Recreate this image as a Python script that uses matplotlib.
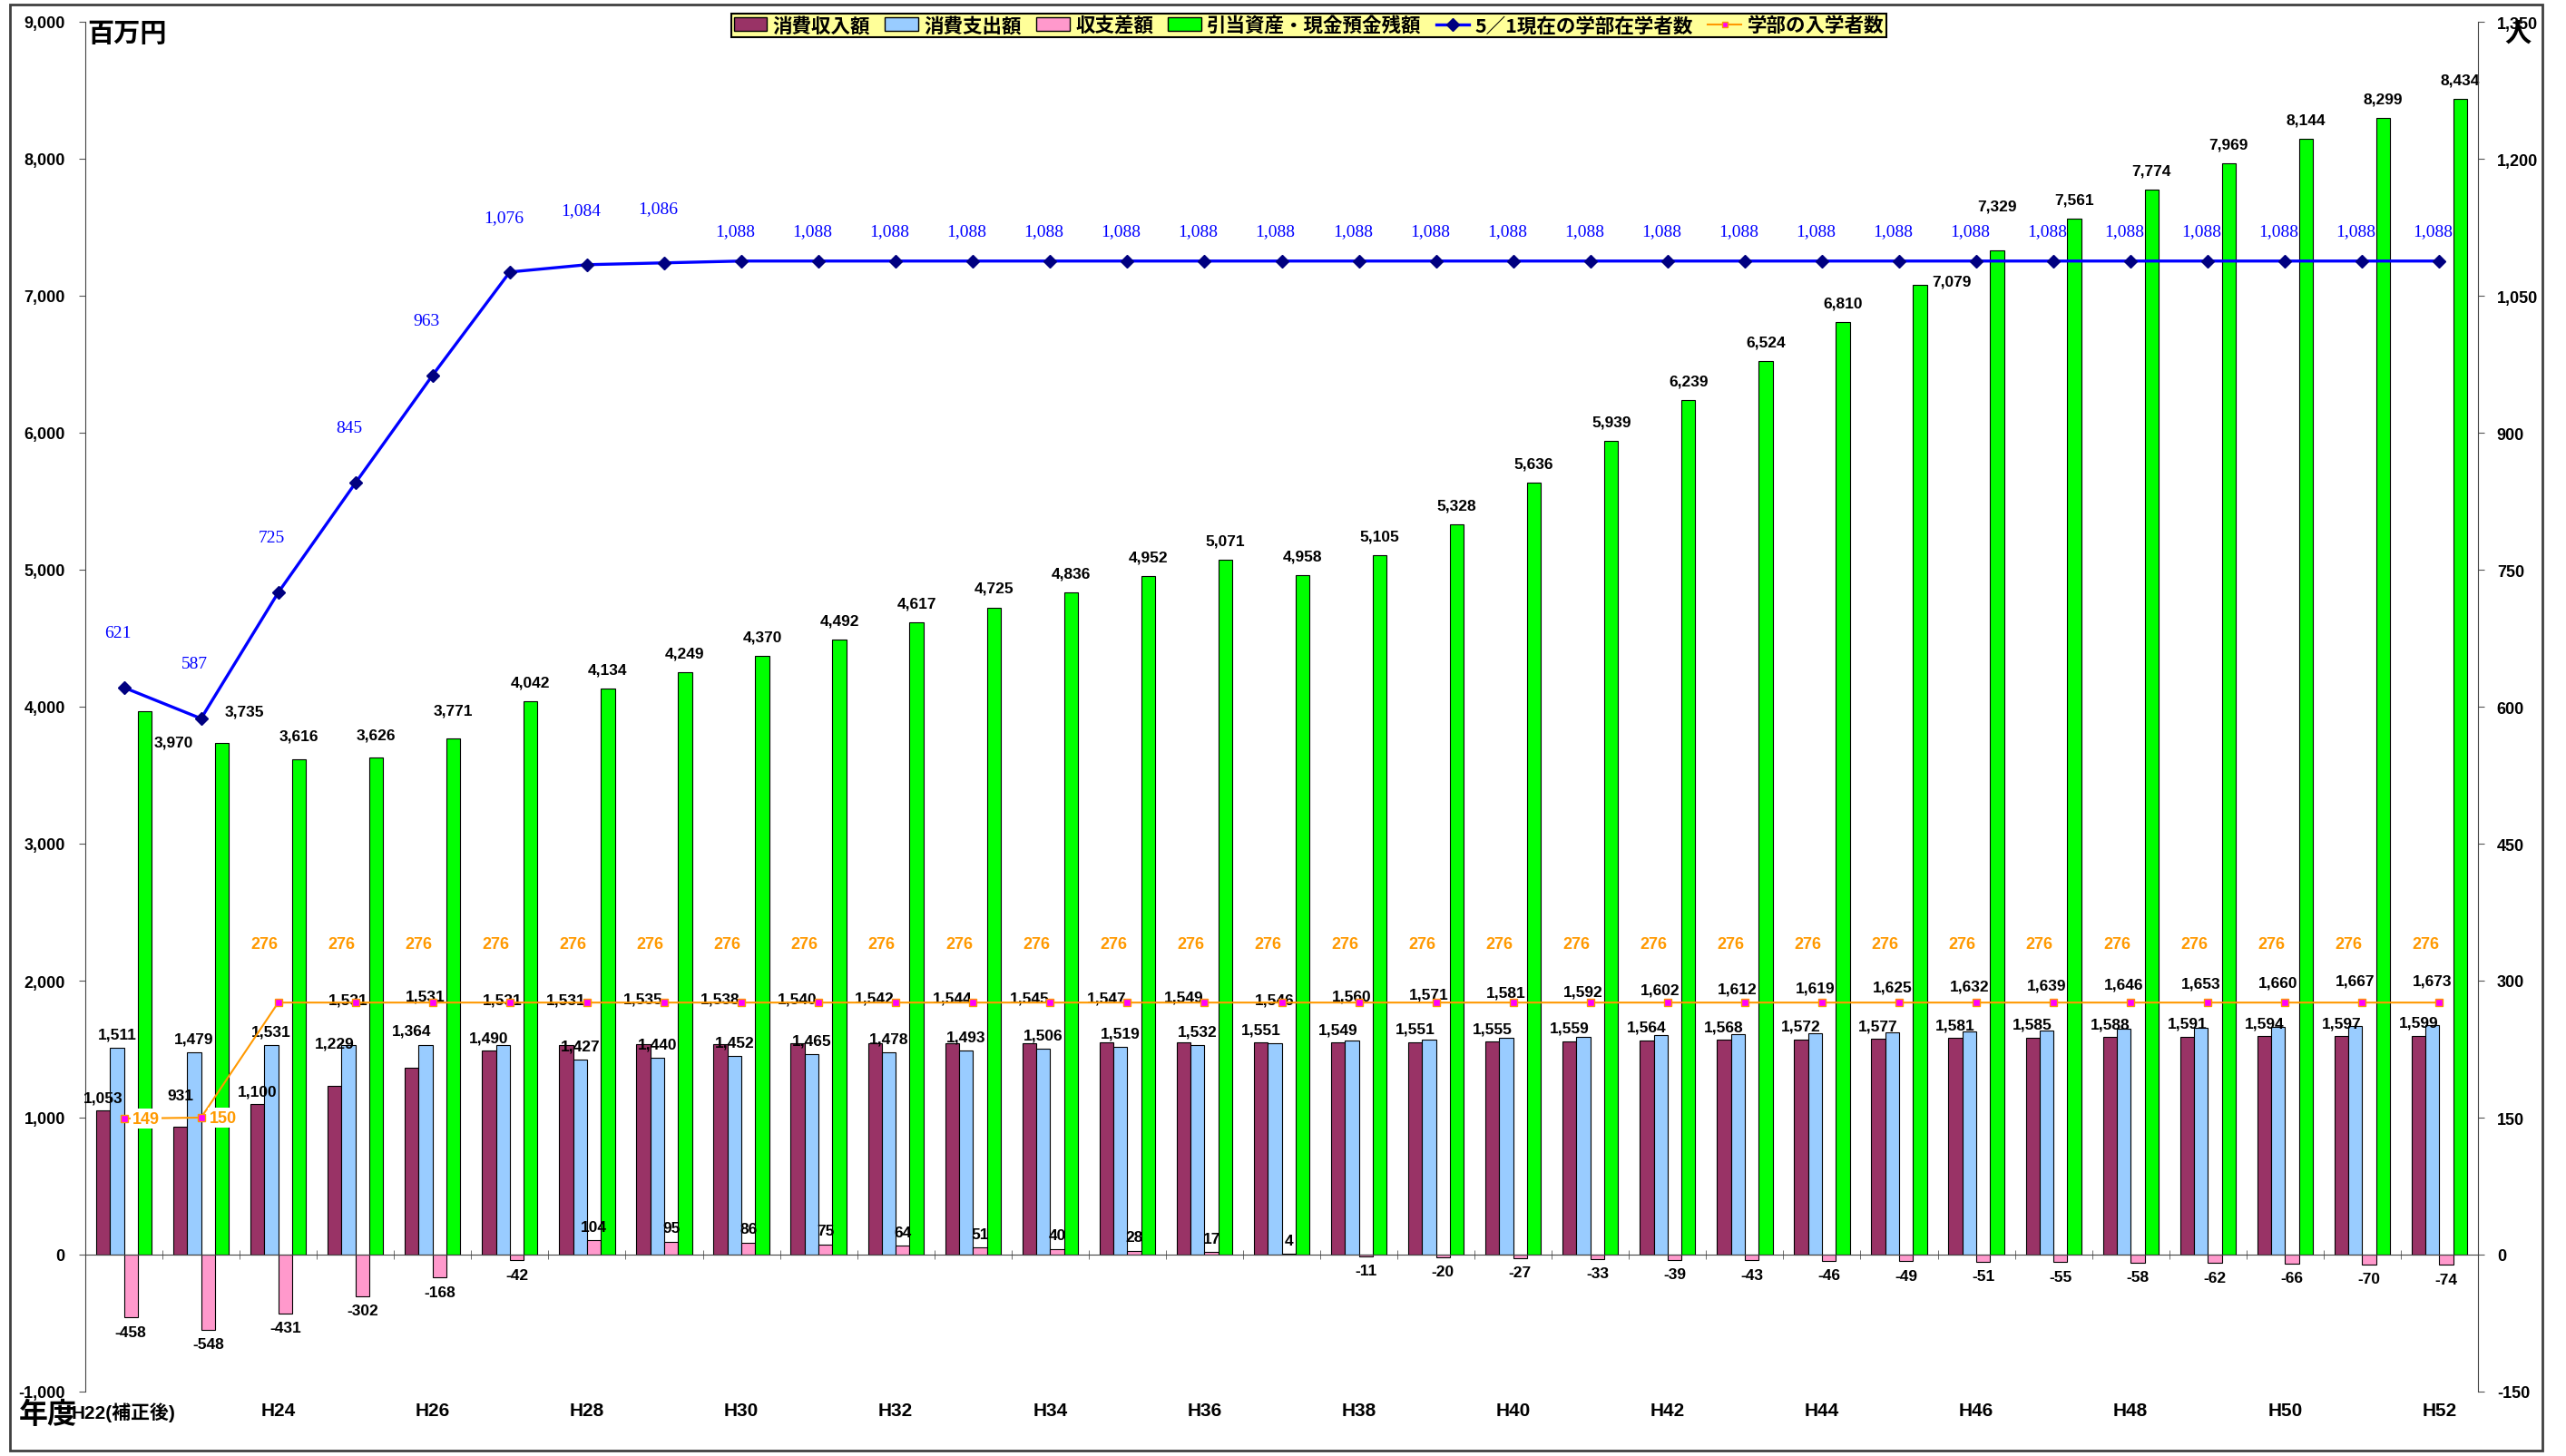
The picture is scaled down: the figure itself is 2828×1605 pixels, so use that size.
import numpy as np
import matplotlib.pyplot as plt
from matplotlib.lines import Line2D
from matplotlib.patches import Patch, Rectangle
from matplotlib.ticker import FuncFormatter, MultipleLocator
from matplotlib.font_manager import FontProperties

plt.rcParams['font.family'] = ['Liberation Sans', 'Noto Sans CJK JP', 'DejaVu Sans']
plt.rcParams['font.weight'] = 'bold'

# ---- data (百万円 / 人) ----
tick_labels = ['H22(補正後)', 'H24', 'H26', 'H28', 'H30', 'H32', 'H34', 'H36',
               'H38', 'H40', 'H42', 'H44', 'H46', 'H48', 'H50', 'H52']

income = [1053, 931, 1100, 1229, 1364, 1490, 1531, 1535, 1538, 1540, 1542,
          1544, 1545, 1547, 1549, 1551, 1549, 1551, 1555, 1559, 1564, 1568,
          1572, 1577, 1581, 1585, 1588, 1591, 1594, 1597, 1599]
expense = [1511, 1479, 1531, 1531, 1531, 1531, 1427, 1440, 1452, 1465, 1478,
           1493, 1506, 1519, 1532, 1546, 1560, 1571, 1581, 1592, 1602, 1612,
           1619, 1625, 1632, 1639, 1646, 1653, 1660, 1667, 1673]
balance = [-458, -548, -431, -302, -168, -42, 104, 95, 86, 75, 64, 51, 40, 28,
           17, 4, -11, -20, -27, -33, -39, -43, -46, -49, -51, -55, -58, -62,
           -66, -70, -74]
reserve = [3970, 3735, 3616, 3626, 3771, 4042, 4134, 4249, 4370, 4492, 4617,
           4725, 4836, 4952, 5071, 4958, 5105, 5328, 5636, 5939, 6239, 6524,
           6810, 7079, 7329, 7561, 7774, 7969, 8144, 8299, 8434]
students = [621, 587, 725, 845, 963, 1076, 1084, 1086, 1088, 1088, 1088, 1088,
            1088, 1088, 1088, 1088, 1088, 1088, 1088, 1088, 1088, 1088, 1088,
            1088, 1088, 1088, 1088, 1088, 1088, 1088, 1088]
entrants = [149, 150, 276, 276, 276, 276, 276, 276, 276, 276, 276, 276, 276,
            276, 276, 276, 276, 276, 276, 276, 276, 276, 276, 276, 276, 276,
            276, 276, 276, 276, 276]

names = ['消費収入額', '消費支出額', '収支差額', '引当資産・現金預金残額',
         '5／1現在の学部在学者数', '学部の入学者数']
colors = ['#993366', '#99CCFF', '#FF99CC', '#00FF00']

W, H = 2828, 1606
fig = plt.figure(figsize=(W / 100, H / 100), dpi=100)
ax = fig.add_axes([94 / W, 1 - 1535 / H, (2731 - 94) / W, (1535 - 25) / H])

x = np.arange(len(income))
w = 0.18
for k, vals in enumerate([income, expense, balance, reserve]):
    ax.bar(x + (k - 1.5) * w, vals, w, color=colors[k], edgecolor='black',
           linewidth=0.8, zorder=2)

comma = FuncFormatter(lambda v, p: f'{int(v):,}')
ax.set_xlim(-0.5, len(x) - 0.5)
ax.set_ylim(-1000, 9000)
ax.yaxis.set_major_locator(MultipleLocator(1000))
ax.yaxis.set_major_formatter(comma)
ax.tick_params(axis='y', length=5, pad=11, labelsize=13, color='#555555')
for s in ['top', 'right']:
    ax.spines[s].set_visible(False)
ax.spines['left'].set_color('#444444')
ax.spines['bottom'].set_position(('data', 0))
ax.spines['bottom'].set_color('#444444')
ax.set_xticks([])
ax.set_xticks(np.arange(-0.5, len(x), 1), minor=True)
ax.tick_params(axis='x', which='minor', length=7, direction='inout', color='#555555')

sec = ax.secondary_xaxis('bottom')
sec.set_xticks(x[::2], tick_labels)
sec.tick_params(length=0, pad=8, labelsize=15)
sec.spines['bottom'].set_visible(False)

# ---- bar labels ----
inc_off = np.full(len(x), 95)
exp_off = np.full(len(x), 95)
for i in range(5, len(x)):
    if income[i] > expense[i]:
        inc_off[i] = 330
    else:
        exp_off[i] = 330
inc_off[1] = 234
inc_off[3], exp_off[3] = 314, 332
inc_off[4], exp_off[4] = 271, 358
inc_off[15], exp_off[15] = 92, 316

lab = dict(ha='center', va='center', fontsize=12.5, zorder=5)
for i in x:
    ax.text(i - 1.5 * w, income[i] + inc_off[i], f'{income[i]:,}', **lab)
    ax.text(i - 0.5 * w, expense[i] + exp_off[i], f'{expense[i]:,}', **lab)
    off = 100 if balance[i] > 0 else -105
    ax.text(i + 0.5 * w, balance[i] + off, f'{balance[i]:,}', **lab)

green_adj = {0: (0.38, -230), 1: (0.29, 229), 2: (0, 169), 3: (0, 170),
             4: (0, 200), 23: (0.41, 24), 24: (0, 329)}
for i in x:
    dx, dy = green_adj.get(i, (0, 140))
    ax.text(i + 1.5 * w + dx, reserve[i] + dy, f'{reserve[i]:,}', **lab)

# ---- lines on the right axis ----
ax2 = ax.twinx()
ax2.set_ylim(-150, 1350)
ax2.yaxis.set_major_locator(MultipleLocator(150))
ax2.yaxis.set_major_formatter(comma)
ax2.tick_params(axis='y', length=5, pad=10, labelsize=13, color='#555555')
for s in ['top', 'left', 'bottom']:
    ax2.spines[s].set_visible(False)
ax2.spines['right'].set_color('#444444')

ax2.plot(x, entrants, color='#FF9900', lw=1.5, marker='s', ms=6,
         mfc='#FF00FF', mec='#FF9900', mew=1, zorder=3)
ax2.plot(x, students, color='#0000FF', lw=2.4, marker='D', ms=7.5,
         mfc='#000080', mec='#000080', zorder=4)

for i in x:
    dy = 60 if students[i] < 1088 else 33
    ax2.text(i - 0.08, students[i] + dy, f'{students[i]:,}', ha='center',
             va='center', color='#0000FF', fontsize=14, fontweight='normal',
             family='Liberation Serif', zorder=6)
    if entrants[i] < 200:
        tx, ty = i + 0.29, entrants[i]
    else:
        tx, ty = i - 0.18, entrants[i] + 64
    ax2.text(tx, ty, f'{entrants[i]:,}', ha='center', va='center',
             color='#FF9900', fontsize=13, zorder=6,
             bbox=dict(facecolor='white', edgecolor='none', pad=1.5))

# ---- legend ----
handles = [Patch(facecolor=c, edgecolor='black', linewidth=1) for c in colors]
handles.append(Line2D([], [], color='#0000FF', lw=2.4, marker='D', ms=7,
                      mfc='#000080', mec='#000080'))
handles.append(Line2D([], [], color='#FF9900', lw=1.5, marker='s', ms=5,
                      mfc='#FF00FF', mec='#FF9900'))
leg = fig.legend(handles, names, loc='center', bbox_to_anchor=(0.510, 0.982),
                 ncol=6, fancybox=False, facecolor='#FFFF99', edgecolor='black',
                 framealpha=1, borderpad=0.12, borderaxespad=0,
                 handlelength=1.7, handleheight=0.7, handletextpad=0.3,
                 columnspacing=0.75,
                 prop=FontProperties(family='Noto Sans CJK JP', weight='bold', size=15.5))
leg.get_frame().set_linewidth(1.5)

jp = dict(family='Noto Sans CJK JP', fontweight='bold')
fig.text(96 / W, 1 - 37 / H, '百万円', ha='left', va='center', fontsize=21, **jp)
fig.text(2775 / W, 1 - 37 / H, '人', ha='center', va='center', fontsize=21, **jp)
fig.text(53 / W, 1 - 1560 / H, '年度', ha='center', va='center', fontsize=23, **jp)

fig.add_artist(Rectangle((11 / W, 1 - 1600 / H), (2802 - 11) / W, (1600 - 6) / H,
                         transform=fig.transFigure, fill=False,
                         edgecolor='#404040', linewidth=2))

fig.savefig('out.png', dpi=100)
